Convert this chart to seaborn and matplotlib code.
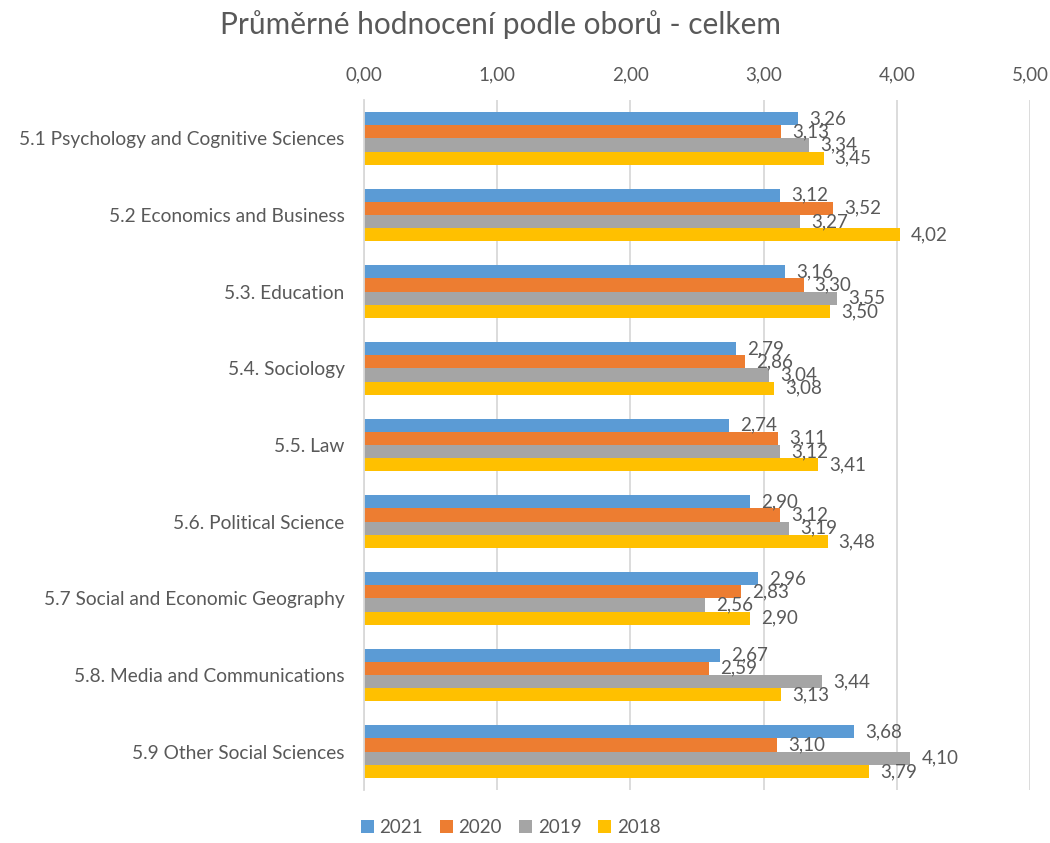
import numpy as np
import matplotlib.pyplot as plt
import pandas as pd
import seaborn as sns

# Data
obory = ["5.1 Psychology and Cognitive Sciences", "5.2 Economics and Business",
         "5.3. Education", "5.4. Sociology", "5.5. Law", "5.6. Political Science",
         "5.7 Social and Economic Geography", "5.8. Media and Communications",
         "5.9 Other Social Sciences"]
years = ["2021", "2020", "2019", "2018"]
v2021 = [3.26, 3.12, 3.16, 2.79, 2.74, 2.90, 2.96, 2.67, 3.68]
v2020 = [3.13, 3.52, 3.30, 2.86, 3.11, 3.12, 2.83, 2.59, 3.10]
v2019 = [3.34, 3.27, 3.55, 3.04, 3.12, 3.19, 2.56, 3.44, 4.10]
v2018 = [3.45, 4.02, 3.50, 3.08, 3.41, 3.48, 2.90, 3.13, 3.79]

df = pd.DataFrame({"obor": obory * 4,
                   "rok": np.repeat(years, len(obory)),
                   "hodnota": v2021 + v2020 + v2019 + v2018})

colors = ["#5B9BD5", "#ED7D31", "#A5A5A5", "#FFC000"]
text_col = "#595959"

sns.set_style("white")
plt.rcParams['font.family'] = ['Lato', 'DejaVu Sans']

fig = plt.figure(figsize=(10.5, 8.43), dpi=100)
ax = fig.add_axes([0.3467, 0.0629, 0.981 - 0.3467, 0.8814 - 0.0629])

sns.barplot(data=df, y="obor", x="hodnota", hue="rok", hue_order=years,
            palette=colors, orient="h", width=0.69, saturation=1,
            edgecolor="none", ax=ax)

# Data labels
for cont in ax.containers:
    labels = [f"{b.get_width():.2f}".replace(".", ",") for b in cont]
    ax.bar_label(cont, labels=labels, padding=8, fontsize=13.5, color=text_col)

ax.set_xlim(0, 5)
ax.set_ylim(8.5, -0.5)
ax.set_xticks(np.arange(0, 5.01, 1))
ax.set_xticklabels([f"{t:.2f}".replace(".", ",") for t in np.arange(0, 5.01, 1)])
ax.xaxis.tick_top()
ax.tick_params(axis="x", length=0, pad=12, labelsize=13.5, colors=text_col)
ax.tick_params(axis="y", length=0, pad=14, labelsize=13.75, colors=text_col)
ax.grid(axis="x", color="#D9D9D9", linewidth=1.3)
ax.set_axisbelow(True)
for s in ["top", "right", "bottom"]:
    ax.spines[s].set_visible(False)
ax.spines["left"].set_color("#D9D9D9")
ax.spines["left"].set_linewidth(1.3)
ax.set_xlabel("")
ax.set_ylabel("")

fig.suptitle("Průměrné hodnocení podle oborů - celkem", x=0.477, y=0.988,
             fontsize=21.5, color=text_col)

ax.legend(loc="center", bbox_to_anchor=(0.22, -0.055), ncol=4, frameon=False,
          fontsize=13.5, handlelength=0.7, handleheight=0.7, handletextpad=0.3,
          columnspacing=0.9, labelcolor=text_col)

fig.savefig("out.png", dpi=100)
